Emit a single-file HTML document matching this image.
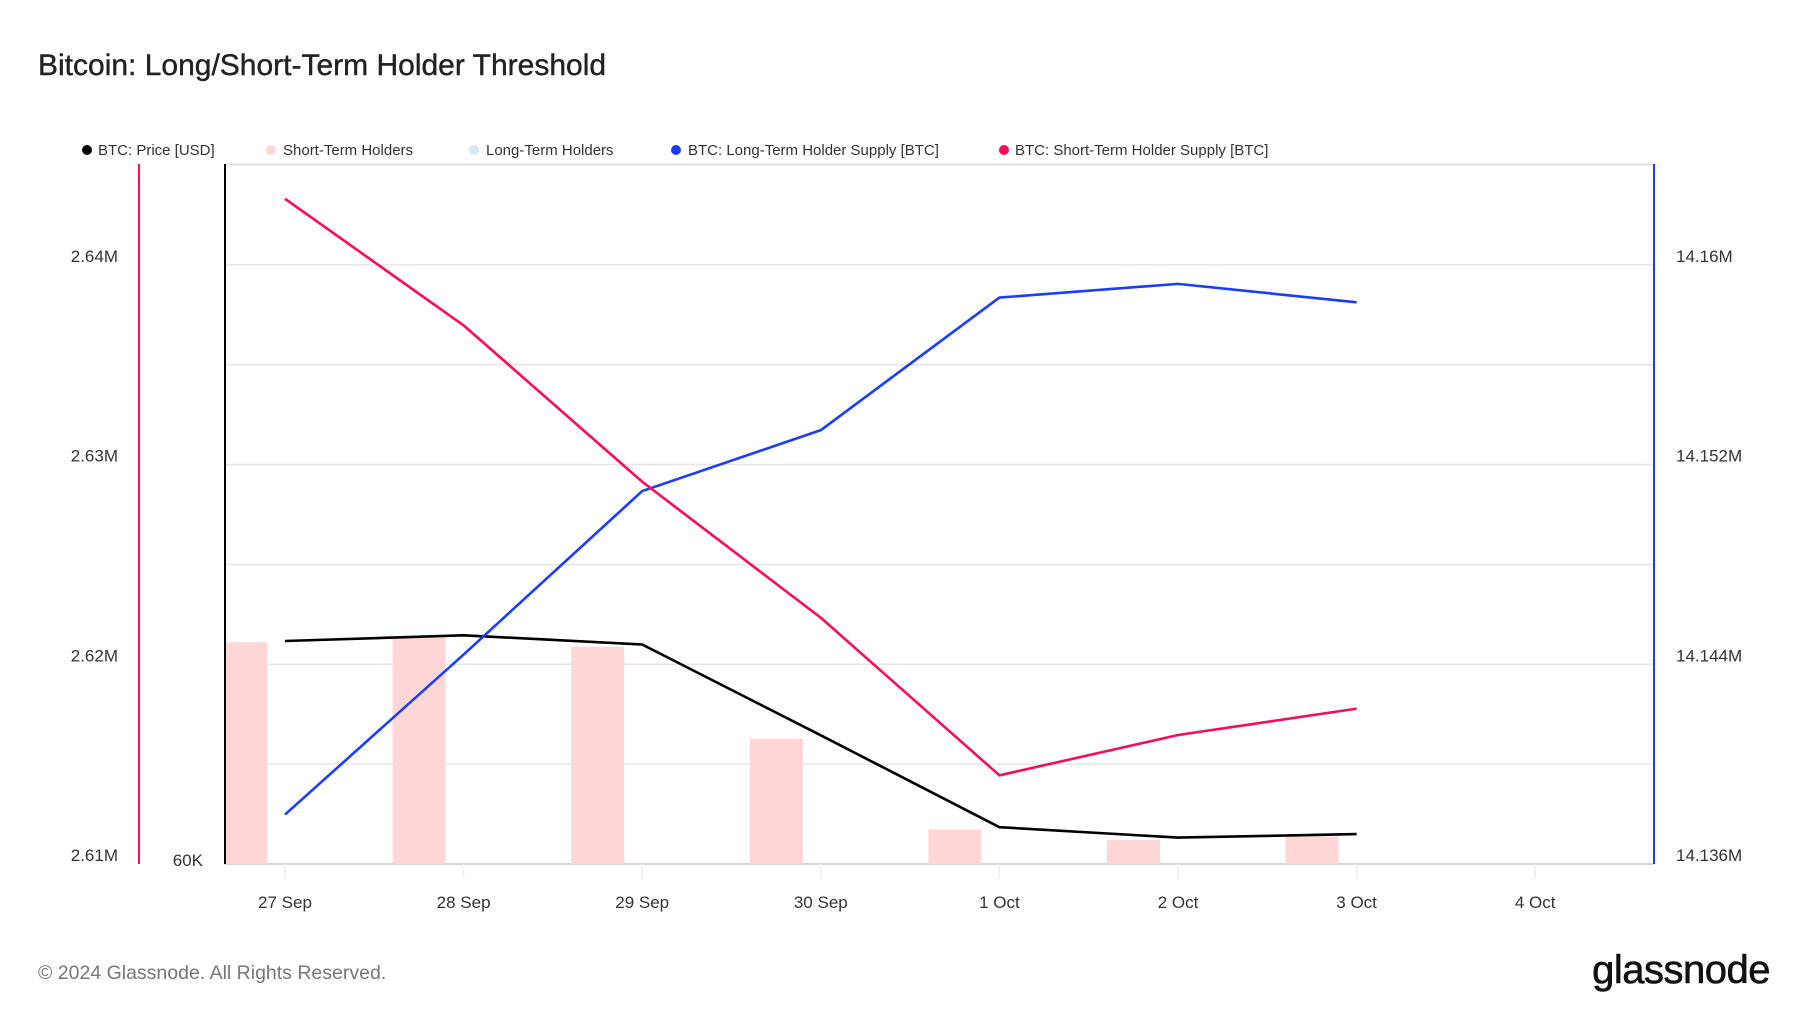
<!DOCTYPE html>
<html><head><meta charset="utf-8"><style>
body{margin:0;background:#fff;font-family:"Liberation Sans",sans-serif}
svg text{font-family:"Liberation Sans",sans-serif}
</style></head><body>
<svg width="1800" height="1013" viewBox="0 0 1800 1013">
<text x="38" y="75" font-size="30" fill="#222" font-weight="500" stroke="#222" stroke-width="0.4">Bitcoin: Long/Short-Term Holder Threshold</text>
<g id="legend" font-size="15" fill="#333">
<g><circle cx="87" cy="150" r="5" fill="#000"/><text x="98" y="155">BTC: Price [USD]</text></g>
<g><circle cx="271" cy="150" r="5" fill="#ffd6d6"/><text x="283" y="155">Short-Term Holders</text></g>
<g><circle cx="474" cy="150" r="5" fill="#d6e6ff"/><text x="486" y="155">Long-Term Holders</text></g>
<g><circle cx="676" cy="150" r="5" fill="#1a3cff"/><text x="688" y="155">BTC: Long-Term Holder Supply [BTC]</text></g>
<g><circle cx="1004" cy="150" r="5" fill="#ff0a5a"/><text x="1015" y="155">BTC: Short-Term Holder Supply [BTC]</text></g>
</g>
<g id="grid"></g>
<g id="bars"></g>
<g id="lines"></g>
<g id="axes"></g>
<text x="38" y="979" font-size="19.5" fill="#777">© 2024 Glassnode. All Rights Reserved.</text>
<text x="1770" y="983" font-size="40" fill="#111" stroke="#111" stroke-width="0.6" text-anchor="end" letter-spacing="-0.5">glassnode</text>
</svg>
<script>
const dates=["27 Sep","28 Sep","29 Sep","30 Sep","1 Oct","2 Oct","3 Oct","4 Oct"];
const sthSupply=[2.64331,2.63697,2.62914,2.62233,2.61444,2.61646,2.61778];
const lthSupply=[14.13798,14.14439,14.15094,14.15338,14.15869,14.15924,14.1585];
const price=[62230,62287,62195,61287,60368,60264,60299];
const sthBars=[62218,62264,62172,61253,60345,60241,60276];
const leftTicks=[2.61,2.62,2.63,2.64];
const leftTickLabels=["2.61M","2.62M","2.63M","2.64M"];
const rightTicks=[14.136,14.144,14.152,14.16];
const rightTickLabels=["14.136M","14.144M","14.152M","14.16M"];
const NS="http://www.w3.org/2000/svg";
const X0=225,X1=1654,Y0=864,Y1=164;
const xs=i=>285+i*178.6;
const yL=v=>Y0-(v-2.61)/0.01*199.7;
const yR=v=>Y0-(v-14.136)/0.008*199.7;
const yP=v=>Y0-(v-60000)/7000*(Y0-Y1);
function mk(tag,attrs,parent){const e=document.createElementNS(NS,tag);for(const k in attrs)e.setAttribute(k,attrs[k]);document.getElementById(parent).appendChild(e);return e;}
for(let i=0;i<=7;i++){const y=Y0-i*99.85;if(y<Y1)break;
const g=mk('line',{x1:X0,x2:X1,y1:y,y2:y,stroke:i==0?'#ccc':'#e6e6e6','stroke-width':1.5},'grid');

}
const topBorder=mk('line',{x1:X0,x2:X1,y1:Y1,y2:Y1,stroke:'#e6e6e6','stroke-width':1.5},'grid');


sthBars.forEach((v,i)=>{let r=xs(i)-18,l=r-53;if(l<X0)l=X0;
const b=mk('rect',{x:l,y:yP(v),width:r-l,height:Y0-yP(v),fill:'#ffd6d6'},'bars');

});
function line(arr,f,color,name){const p=mk('polyline',{points:arr.map((v,i)=>xs(i)+','+f(v)).join(' '),fill:'none',stroke:color,'stroke-width':2.6,'stroke-linejoin':'round'},'lines');

}
line(price,yP,'#000','price-line');
line(lthSupply,yR,'#1a3cff','lth-supply-line');
line(sthSupply,yL,'#ff0a5a','sth-supply-line');
const a1=mk('line',{x1:139,x2:139,y1:Y1,y2:Y0,stroke:'#ff0a5a','stroke-width':2},'axes');


const a2=mk('line',{x1:X0,x2:X0,y1:Y1,y2:Y0,stroke:'#000','stroke-width':2},'axes');


const a3=mk('line',{x1:X1,x2:X1,y1:Y1,y2:Y0,stroke:'#1a3cff','stroke-width':2},'axes');


leftTicks.forEach((v,i)=>{const t=mk('text',{x:118,y:yL(v)-3,'font-size':17,fill:'#333','text-anchor':'end'},'axes');t.textContent=leftTickLabels[i];

});
rightTicks.forEach((v,i)=>{const t=mk('text',{x:1676,y:yR(v)-3,'font-size':17,fill:'#333'},'axes');t.textContent=rightTickLabels[i];

});
const pl=mk('text',{x:203,y:866,'font-size':17,fill:'#333','text-anchor':'end'},'axes');pl.textContent="60K";


dates.forEach((d,i)=>{const x=xs(i);
const tk=mk('line',{x1:x,x2:x,y1:Y0,y2:Y0+15,stroke:'#eee','stroke-width':1.5},'axes');


const t=mk('text',{x:x,y:908,'font-size':17,fill:'#333','text-anchor':'middle'},'axes');t.textContent=d;

});
</script>
</body></html>
